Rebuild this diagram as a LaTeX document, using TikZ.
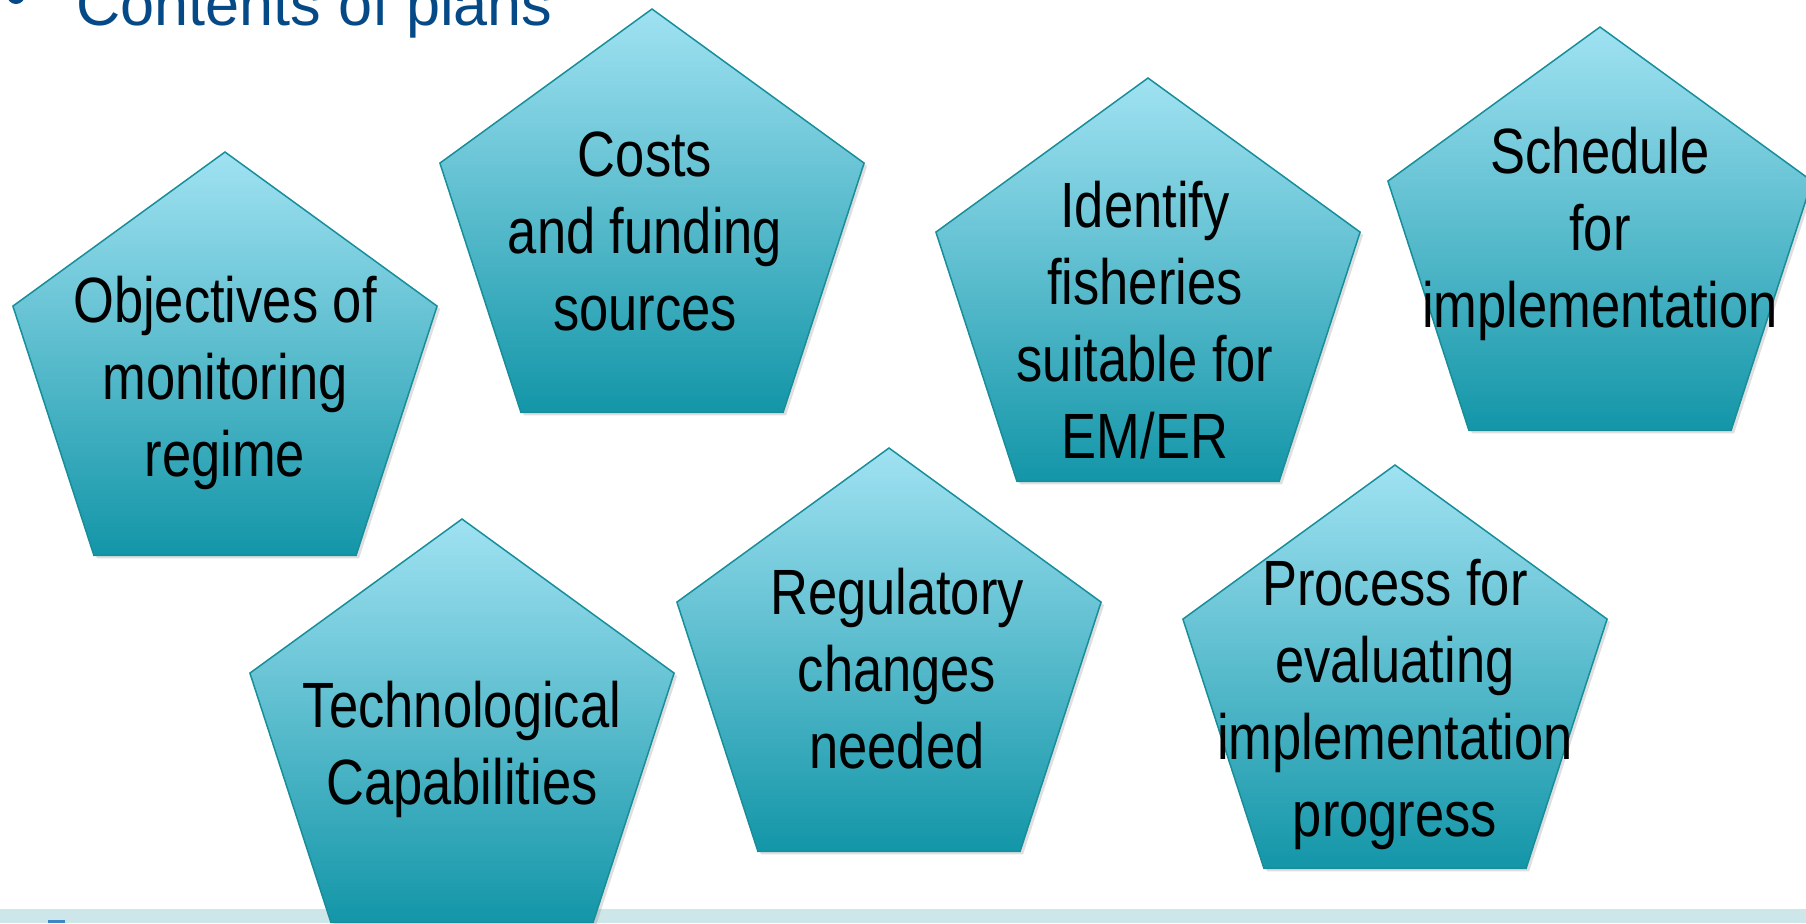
\documentclass[tikz,border=0pt]{standalone}
\usepackage{fontspec}
\setmainfont{Liberation Sans}
\newfontfamily\narrowfont{Liberation Sans}[FakeStretch=0.82]
\usetikzlibrary{shapes.geometric,shadows}
\definecolor{tealtop}{HTML}{A0E2F2}
\definecolor{tealbottom}{HTML}{1396A8}
\definecolor{tealline}{HTML}{178E9A}
\definecolor{titleblue}{HTML}{054A86}
\definecolor{stripcol}{HTML}{CCE6EA}
\definecolor{logoblue}{HTML}{3F86C6}
\tikzset{
  plan/.style={regular polygon, regular polygon sides=5, minimum size=223pt,
    inner sep=0pt, draw=tealline, line width=0.75pt,
    top color=tealtop, bottom color=tealbottom,
    drop shadow={shadow xshift=1.5pt, shadow yshift=-1.5pt, opacity=0.25}},
  plantext/.style={align=center, inner sep=0pt, text=black,
    font=\narrowfont\fontsize{32pt}{38.5pt}\selectfont},
  heading/.style={anchor=base west, inner sep=0pt, text=titleblue,
    font=\fontsize{30.6pt}{36pt}\selectfont}
}

\begin{document}
\begin{tikzpicture}[x=0.5pt,y=-0.5pt]
 \useasboundingbox (0,0) rectangle (1806,923);
 % bottom band
 \fill[stripcol] (0,909) rectangle (1806,923);
 \fill[logoblue] (48,920) rectangle (65,923);

 % title
 \fill[titleblue] (16,-5) circle (4.5pt);
 \node[heading] (title) at (76,25) {Contents of plans};

 % the seven pentagons
 \node[plan] (objectives) at (225,375) {};
 \node[plan] (costs) at (652,232) {};
 \node[plan] (fisheries) at (1148,301) {};
 \node[plan] (schedule) at (1600,250) {};
 \node[plan] (technology) at (462,742) {};
 \node[plan] (regulatory) at (889,671) {};
 \node[plan] (process) at (1395,688) {};

 \node[plantext, yshift=-4pt] (objectivestext) at (objectives) {Objectives of\\monitoring\\regime};
 \node[plantext, xshift=-3.5pt, yshift=0.5pt] (coststext) at (costs) {Costs\\and funding\\sources};
 \node[plantext, xshift=-1.5pt, yshift=-9.5pt] (fisheriestext) at (fisheries) {Identify\\fisheries\\suitable for\\EM/ER};
 \node[plantext, yshift=8pt] (scheduletext) at (schedule) {Schedule\\for\\implementation};
 \node[plantext, yshift=-3.5pt] (technologytext) at (technology) {Technological\\Capabilities};
 \node[plantext, xshift=4pt, yshift=1pt] (regulatorytext) at (regulatory) {Regulatory\\changes\\needed};
 \node[plantext, yshift=-8.25pt] (processtext) at (process) {Process for\\evaluating\\implementation\\progress};
\end{tikzpicture}
\end{document}
